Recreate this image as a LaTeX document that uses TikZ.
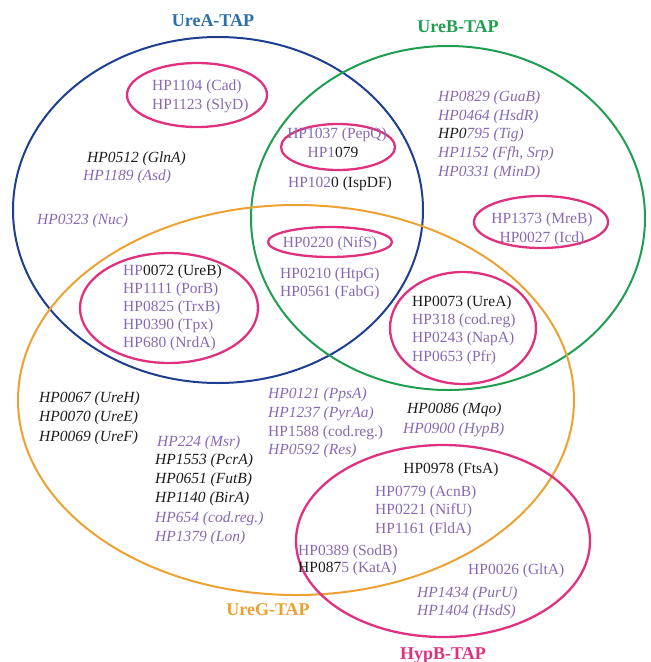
\documentclass[tikz,border=0pt]{standalone}
\usepackage{fontspec}
\setmainfont{Liberation Serif}
\definecolor{cblue}{HTML}{1E3F8F}
\definecolor{tblue}{HTML}{2C6FAE}
\definecolor{cgreen}{HTML}{1F9E4F}
\definecolor{corange}{HTML}{EBA232}
\definecolor{cmag}{HTML}{E0317F}
\definecolor{cpur}{HTML}{8868B3}
\definecolor{cblk}{HTML}{1C1C1C}
\newcommand\gfs{\fontsize{15.5}{19}\selectfont}
\newcommand\tfs{\fontsize{18}{21}\selectfont\bfseries}
\newcommand\K[1]{\textcolor{cblk}{#1}}
\tikzset{
  ring/.style={line width=2pt},
  sub/.style={draw=cmag,line width=2.3pt},
  tx/.style={inner sep=0pt,font=\gfs,anchor=base west},
  txc/.style={inner sep=0pt,font=\gfs,anchor=base},
  pu/.style={tx,text=cpur},
  pui/.style={tx,text=cpur,font=\gfs\itshape},
  bk/.style={tx,text=cblk},
  bki/.style={tx,text=cblk,font=\gfs\itshape},
  ttl/.style={inner sep=0pt,font=\tfs,anchor=base},
}
\begin{document}
\begin{tikzpicture}[x=1pt,y=-1pt]
\useasboundingbox (0,0) rectangle (651,662);
% main sets
\draw[ring,draw=cblue] (218,210) ellipse [x radius=205pt, y radius=173pt];
\draw[ring,draw=cgreen] (448,218) ellipse [x radius=197pt, y radius=172pt];
\draw[ring,draw=corange] (296,400) ellipse [x radius=278pt, y radius=195pt];
\draw[ring,draw=cmag,line width=2.3pt] (443,541) ellipse [x radius=147pt, y radius=96pt];
% sub-groups
\draw[sub] (197,95) ellipse [x radius=70pt, y radius=32pt];
\draw[sub] (338,147) ellipse [x radius=57pt, y radius=23pt];
\draw[sub] (330,242) ellipse [x radius=62pt, y radius=15pt];
\draw[sub] (169,308) ellipse [x radius=89pt, y radius=55pt];
\draw[sub] (541,222) ellipse [x radius=67pt, y radius=26pt];
\draw[sub] (463,328) ellipse [x radius=73pt, y radius=56pt];
% titles
\node[ttl,text=tblue] (tA) at (213,26) {UreA-TAP};
\node[ttl,text=cgreen] (tB) at (458,32) {UreB-TAP};
\node[ttl,text=corange] (tG) at (268,615) {UreG-TAP};
\node[ttl,text=cmag] (tH) at (443,659) {HypB-TAP};
% UreA only
\node[bki] (a1) at (87,162) {HP0512 (GlnA)};
\node[pui] (a2) at (83,180) {HP1189 (Asd)};
\node[pui] (a3) at (37,224) {HP0323 (Nuc)};
\node[pu] (a4) at (152,90) {HP1104 (Cad)};
\node[pu] (a5) at (152,109) {HP1123 (SlyD)};
% UreB only
\node[pui] (b1) at (438,101) {HP0829 (GuaB)};
\node[pui] (b2) at (438,120) {HP0464 (HsdR)};
\node[pui] (b3) at (438,138) {\K{HP0}795 (Tig)};
\node[pui] (b4) at (438,157) {HP1152 (Ffh, Srp)};
\node[pui] (b5) at (438,176) {HP0331 (MinD)};
\node[txc,text=cpur] (b6) at (542,223) {HP1373 (MreB)};
\node[txc,text=cpur] (b7) at (542,242) {HP0027 (Icd)};
% UreA & UreB
\node[txc,text=cpur] (ab1) at (337,138) {HP1037 (PepQ)};
\node[txc,text=cpur] (ab2) at (333,157) {HP1\K{079}};
\node[txc,text=cpur] (ab3) at (340,187) {HP102\K{0 (IspDF)}};
% UreA & UreB & UreG
\node[txc,text=cpur] (abg1) at (330,247) {HP0220 (NifS)};
\node[pu] (abg2) at (280,278) {HP0210 (HtpG)};
\node[pu] (abg3) at (280,296) {HP0561 (FabG)};
% UreA & UreG
\node[pu] (ag1) at (123,275) {HP\K{0072 (UreB)}};
\node[pu] (ag2) at (123,293) {HP1111 (PorB)};
\node[pu] (ag3) at (123,311) {HP0825 (TrxB)};
\node[pu] (ag4) at (123,329) {HP0390 (Tpx)};
\node[pu] (ag5) at (123,347) {HP680 (NrdA)};
% UreB & UreG
\node[bk] (bg1) at (412,306) {HP0073 (UreA)};
\node[pu] (bg2) at (412,324) {HP318 (cod.reg)};
\node[pu] (bg3) at (412,342) {HP0243 (NapA)};
\node[pu] (bg4) at (412,361) {HP0653 (Pfr)};
% UreG only
\node[bki] (g1) at (39,402) {HP0067 (UreH)};
\node[bki] (g2) at (39,421) {HP0070 (UreE)};
\node[bki] (g3) at (39,441) {HP0069 (UreF)};
\node[pui] (g4) at (157,446) {HP224 (Msr)};
\node[bki] (g5) at (155,464) {HP1553 (PcrA)};
\node[bki] (g6) at (155,483) {HP0651 (FutB)};
\node[bki] (g7) at (155,502) {HP1140 (BirA)};
\node[pui] (g8) at (155,522) {HP654 (cod.reg.)};
\node[pui] (g9) at (155,541) {HP1379 (Lon)};
\node[pui] (g10) at (268,398) {HP0121 (PpsA)};
\node[pui] (g11) at (268,417) {HP1237 (PyrAa)};
\node[pu] (g12) at (268,436) {HP1588 (cod.reg.)};
\node[pui] (g13) at (268,454) {HP0592 (Res)};
\node[bki] (g14) at (407,413) {HP0086 (Mqo)};
\node[pui] (g15) at (403,433) {HP0900 (HypB)};
% UreG & HypB
\node[txc,text=cblk] (gh1) at (451,473) {HP0978 (FtsA)};
\node[pu] (gh2) at (375,496) {HP0779 (AcnB)};
\node[pu] (gh3) at (375,514) {HP0221 (NifU)};
\node[pu] (gh4) at (375,533) {HP1161 (FldA)};
\node[pu] (gh5) at (298,555) {HP0389 (SodB)};
\node[pu] (gh6) at (298,572) {\K{HP087}5 (KatA)};
% HypB only
\node[pu] (h1) at (468,574) {HP0026 (GltA)};
\node[pui] (h2) at (417,597) {HP1434 (PurU)};
\node[pui] (h3) at (417,615) {HP1404 (HsdS)};
\end{tikzpicture}
\end{document}
